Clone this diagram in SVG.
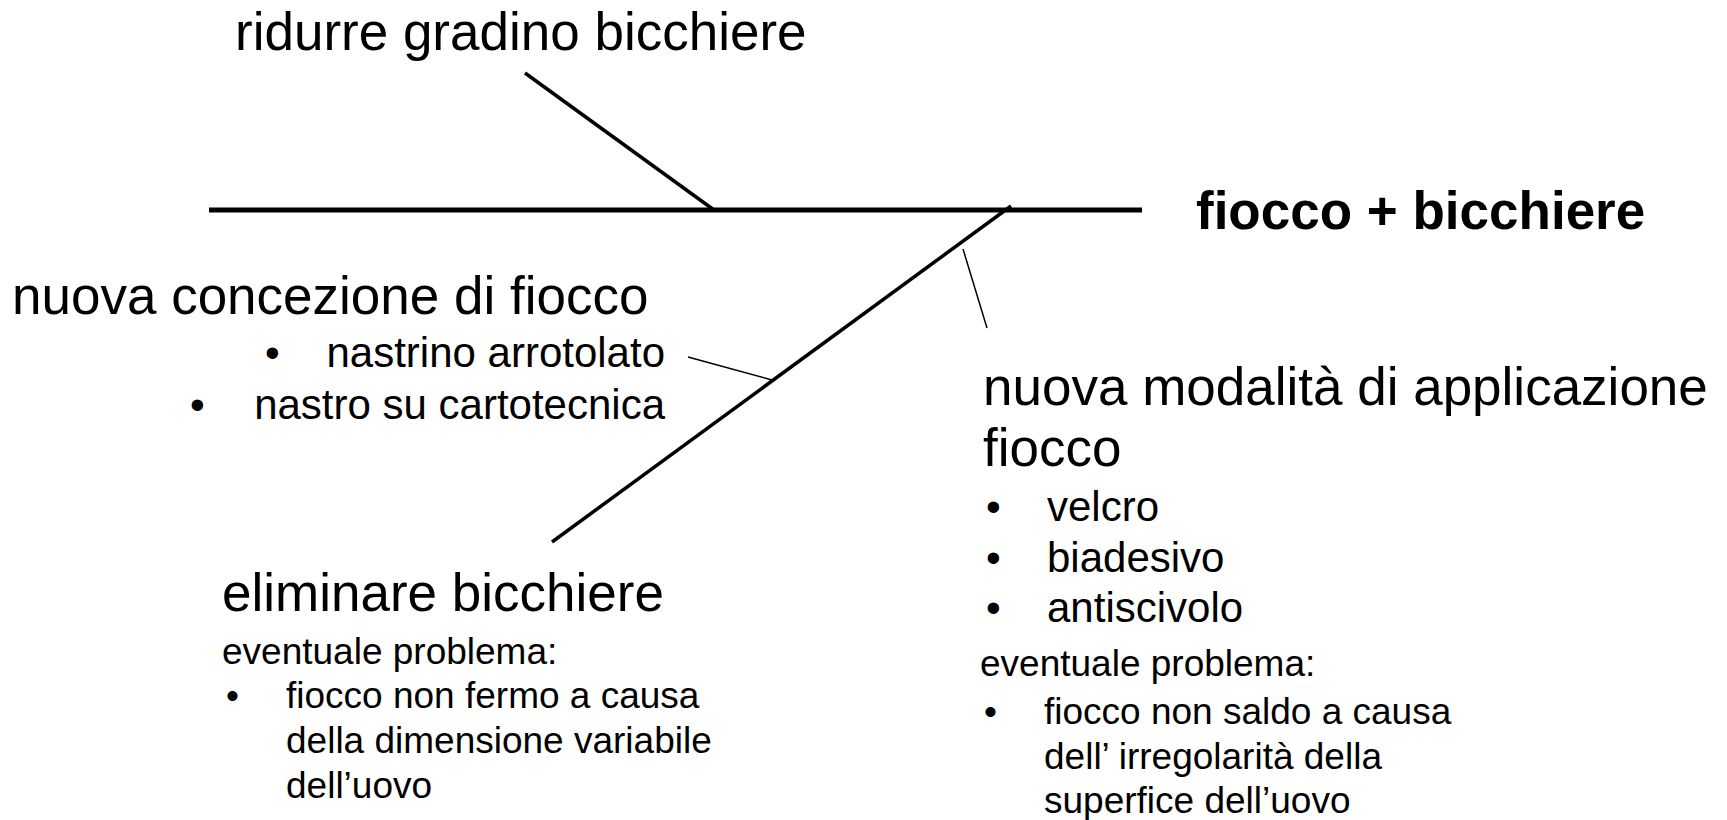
<svg xmlns="http://www.w3.org/2000/svg" width="1727" height="820" viewBox="0 0 1727 820">
<style>
text{font-family:"Liberation Sans",Arial,sans-serif;fill:#000}
.big{font-size:53px}
.mid{font-size:42px}
.sm{font-size:37px}
.bold{font-size:53px;font-weight:bold}
.bone{stroke:#000;fill:none;stroke-linecap:butt}
</style>
<rect width="1727" height="820" fill="#fff"/>
<g id="connectors">
<line class="bone" x1="209" y1="210" x2="1142" y2="210" stroke-width="5"/>
<line class="bone" x1="525" y1="73" x2="714" y2="210" stroke-width="3.5"/>
<line class="bone" x1="552" y1="542" x2="1011" y2="206" stroke-width="3.5"/>
<line class="bone" x1="963" y1="249" x2="987" y2="328" stroke-width="1.5"/>
<line class="bone" x1="688" y1="357" x2="772" y2="380" stroke-width="1.5"/>
</g>
<g id="effect">
<text class="bold" x="1196" y="229">fiocco + bicchiere</text>
</g>
<g id="ridurre">
<text class="big" x="235" y="50">ridurre gradino bicchiere</text>
</g>
<g id="concezione">
<text class="big" x="12" y="314">nuova concezione di fiocco</text>
<text class="mid" x="265" y="367">•</text>
<text class="mid" x="665" y="367" text-anchor="end">nastrino arrotolato</text>
<text class="mid" x="190" y="419">•</text>
<text class="mid" x="665" y="419" text-anchor="end">nastro su cartotecnica</text>
</g>
<g id="modalita">
<text class="big" x="983" y="405">nuova modalità di applicazione</text>
<text class="big" x="983" y="466">fiocco</text>
<text class="mid" x="986" y="521">•</text>
<text class="mid" x="1047" y="521">velcro</text>
<text class="mid" x="986" y="572">•</text>
<text class="mid" x="1047" y="572">biadesivo</text>
<text class="mid" x="986" y="622">•</text>
<text class="mid" x="1047" y="622">antiscivolo</text>
<text class="sm" x="980" y="676">eventuale problema:</text>
<text class="sm" x="984" y="724">•</text>
<text class="sm" x="1044" y="724">fiocco non saldo a causa</text>
<text class="sm" x="1044" y="769">dell’ irregolarità della</text>
<text class="sm" x="1044" y="813">superfice dell’uovo</text>
</g>
<g id="eliminare">
<text class="big" x="222" y="611">eliminare bicchiere</text>
<text class="sm" x="222" y="664">eventuale problema:</text>
<text class="sm" x="226" y="708">•</text>
<text class="sm" x="286" y="708">fiocco non fermo a causa</text>
<text class="sm" x="286" y="753">della dimensione variabile</text>
<text class="sm" x="286" y="798">dell’uovo</text>
</g>
</svg>
